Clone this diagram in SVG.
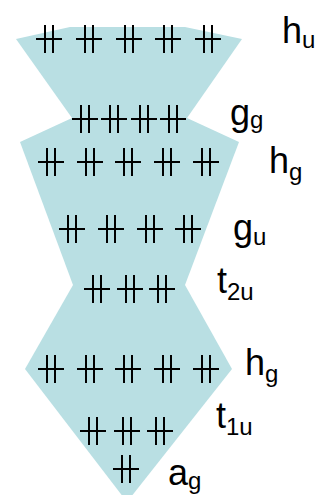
<svg xmlns="http://www.w3.org/2000/svg" xmlns:xlink="http://www.w3.org/1999/xlink" width="320" height="495" viewBox="0 0 320 495">
<style>
.band{fill:#b9dfe3;stroke:none}
.lbl{font-family:"Liberation Sans",Arial,sans-serif;font-size:36px;fill:#000}
.sub{font-size:24px}
.pr line{stroke:#000;stroke-width:2}
</style>
<defs>
<g id="pair" class="pr">
<line x1="-13" y1="0" x2="13" y2="0"/>
<line x1="-4" y1="-14" x2="-4" y2="14"/>
<line x1="4" y1="-14" x2="4" y2="14"/>
</g>
</defs>
<rect width="320" height="495" fill="#fff"/>
<g id="bands">
<polygon class="band" points="16,39 70,27 185,27 242,39 187,118 72,118"/>
<polygon class="band" points="72,118 187,118 239,142 20,142"/>
<polygon class="band" points="20,142 239,142 185,285 73,285"/>
<polygon class="band" points="73,285 185,285 232,369 25,369"/>
<polygon class="band" points="25,369 232,369 127,502"/>
</g>
<g id="hu">
<use xlink:href="#pair" x="49" y="39"/><use xlink:href="#pair" x="89" y="39"/><use xlink:href="#pair" x="129" y="39"/><use xlink:href="#pair" x="168" y="39"/><use xlink:href="#pair" x="208" y="39"/>
<text class="lbl" x="282" y="43">h<tspan class="sub" y="48">u</tspan></text>
</g>
<g id="gg">
<use xlink:href="#pair" x="85" y="119"/><use xlink:href="#pair" x="114" y="119"/><use xlink:href="#pair" x="144" y="119"/><use xlink:href="#pair" x="173" y="119"/>
<text class="lbl" x="230" y="125">g<tspan class="sub" y="128">g</tspan></text>
</g>
<g id="hg1">
<use xlink:href="#pair" x="51" y="162"/><use xlink:href="#pair" x="90" y="162"/><use xlink:href="#pair" x="128" y="162"/><use xlink:href="#pair" x="167" y="162"/><use xlink:href="#pair" x="206" y="162"/>
<text class="lbl" x="269" y="173">h<tspan class="sub" y="180">g</tspan></text>
</g>
<g id="gu">
<use xlink:href="#pair" x="72" y="229"/><use xlink:href="#pair" x="111" y="229"/><use xlink:href="#pair" x="150" y="229"/><use xlink:href="#pair" x="188" y="229"/>
<text class="lbl" x="233" y="240">g<tspan class="sub" y="245">u</tspan></text>
</g>
<g id="t2u">
<use xlink:href="#pair" x="97" y="289"/><use xlink:href="#pair" x="130" y="289"/><use xlink:href="#pair" x="162" y="289"/>
<text class="lbl" x="217" y="293">t<tspan class="sub" y="300">2u</tspan></text>
</g>
<g id="hg2">
<use xlink:href="#pair" x="51" y="369"/><use xlink:href="#pair" x="90" y="369"/><use xlink:href="#pair" x="128" y="369"/><use xlink:href="#pair" x="167" y="369"/><use xlink:href="#pair" x="206" y="369"/>
<text class="lbl" x="245" y="375">h<tspan class="sub" y="382">g</tspan></text>
</g>
<g id="t1u">
<use xlink:href="#pair" x="93" y="431"/><use xlink:href="#pair" x="127" y="431"/><use xlink:href="#pair" x="160" y="431"/>
<text class="lbl" x="216" y="428">t<tspan class="sub" y="435">1u</tspan></text>
</g>
<g id="ag">
<use xlink:href="#pair" x="126" y="469"/>
<text class="lbl" x="168" y="485">a<tspan class="sub" y="489">g</tspan></text>
</g>
</svg>
